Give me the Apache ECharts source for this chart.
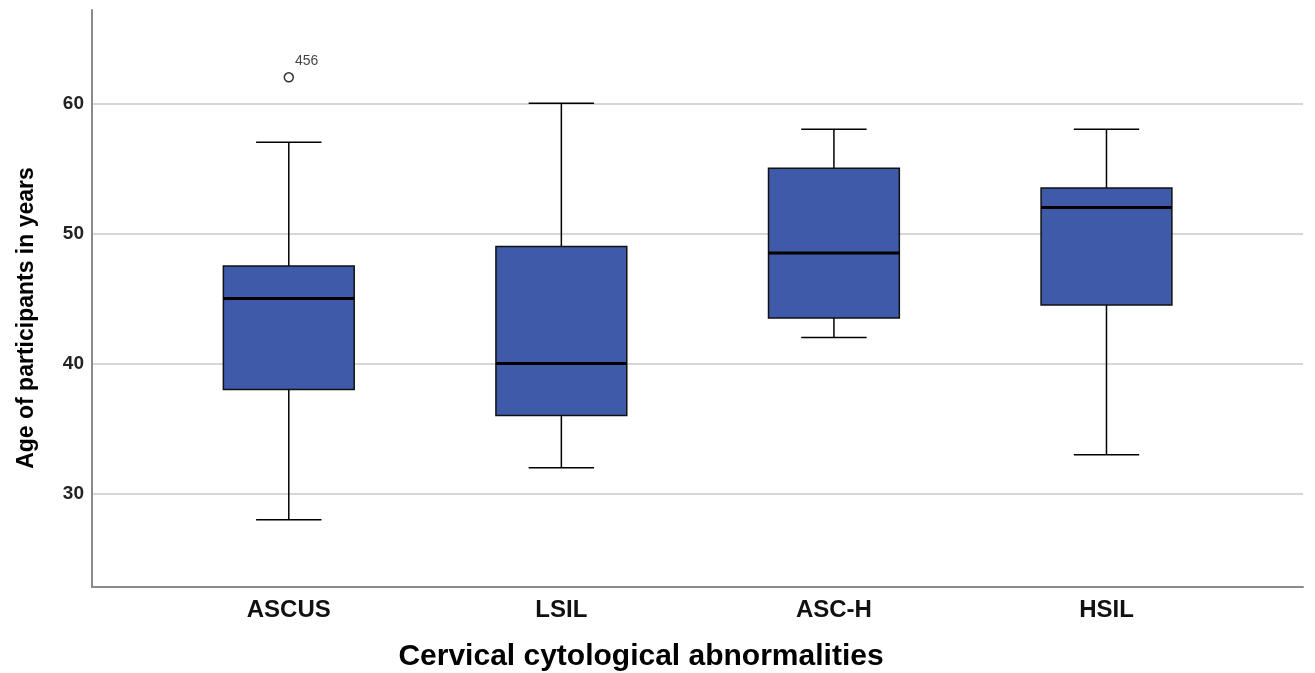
<!DOCTYPE html>
<html>
<head>
<meta charset="utf-8">
<script src="https://cdn.jsdelivr.net/npm/echarts@6/dist/echarts.min.js"></script>
<style>
html,body{margin:0;padding:0;background:#fff;}
#c{width:1315px;height:673px;}
</style>
</head>
<body>
<div id="c"></div>
<script>
// ---- data ----
const categories = ['ASCUS', 'LSIL', 'ASC-H', 'HSIL'];
const whiskerLow = [28, 32, 42, 33];
const q1 = [38, 36, 43.5, 44.5];
const median = [45, 40, 48.5, 52];
const q3 = [47.5, 49, 55, 53.5];
const whiskerHigh = [57, 60, 58, 58];
const outliers = [[0, 62, '456']]; // [category index, value, case id]
const yTicks = [30, 40, 50, 60];

const boxData = categories.map((c, i) => [i, whiskerLow[i], q1[i], median[i], q3[i], whiskerHigh[i]]);

const chart = echarts.init(document.getElementById('c'));
const FONT = '"Liberation Sans", Arial, sans-serif';

function renderBox(params, api) {
  const x = api.value(0);
  const lo = api.coord([x, api.value(1)]);
  const b1 = api.coord([x, api.value(2)]);
  const md = api.coord([x, api.value(3)]);
  const b3 = api.coord([x, api.value(4)]);
  const hi = api.coord([x, api.value(5)]);
  const bw = api.size([0.48, 0])[0];
  const cw = api.size([0.24, 0])[0];
  const cx = lo[0];
  const line = {stroke: '#000', lineWidth: 1.5};
  return {
    type: 'group',
    children: [
      {type: 'line', shape: {x1: cx, y1: hi[1], x2: cx, y2: b3[1]}, style: line},
      {type: 'line', shape: {x1: cx, y1: b1[1], x2: cx, y2: lo[1]}, style: line},
      {type: 'line', shape: {x1: cx - cw / 2, y1: hi[1], x2: cx + cw / 2, y2: hi[1]}, style: line},
      {type: 'line', shape: {x1: cx - cw / 2, y1: lo[1], x2: cx + cw / 2, y2: lo[1]}, style: line},
      {type: 'rect', shape: {x: cx - bw / 2, y: b3[1], width: bw, height: b1[1] - b3[1]},
        style: {fill: '#3E5AA8', stroke: '#111', lineWidth: 1.5}},
      {type: 'line', shape: {x1: cx - bw / 2, y1: md[1], x2: cx + bw / 2, y2: md[1]},
        style: {stroke: '#000', lineWidth: 3}}
    ]
  };
}

chart.setOption({
  animation: false,
  backgroundColor: '#fff',
  grid: {left: 92, right: 12, top: 10, bottom: 86, containLabel: false},
  xAxis: {
    type: 'value',
    min: -0.722,
    max: 3.721,
    axisLine: {show: true, onZero: false, lineStyle: {color: '#8a8a8a', width: 2}},
    axisTick: {show: false, customValues: [0, 1, 2, 3]},
    splitLine: {show: false},
    axisLabel: {
      customValues: [0, 1, 2, 3],
      formatter: v => categories[Math.round(v)] || '',
      color: '#111', fontWeight: 'bold', fontSize: 24, fontFamily: FONT, margin: 11
    }
  },
  yAxis: {
    type: 'value',
    min: 22.83,
    max: 67.17,
    axisLine: {show: true, onZero: false, lineStyle: {color: '#8a8a8a', width: 2}},
    axisTick: {show: false, customValues: yTicks},
    splitLine: {show: true, lineStyle: {color: '#c8c8c8', width: 1.5}},
    axisLabel: {
      customValues: yTicks,
      color: '#222', fontWeight: 'bold', fontSize: 19, fontFamily: FONT, margin: 8
    }
  },
  graphic: [
    {type: 'text', x: 27, y: 318, rotation: Math.PI / 2,
      style: {text: 'Age of participants in years', fill: '#000', align: 'center', verticalAlign: 'middle',
        font: 'bold 23px "Liberation Sans Narrow", "Arial Narrow", ' + FONT}},
    {type: 'text', x: 641, y: 657,
      style: {text: 'Cervical cytological abnormalities', fill: '#000', align: 'center', verticalAlign: 'middle',
        font: 'bold 30px ' + FONT}}
  ],
  series: [
    {
      type: 'custom',
      renderItem: renderBox,
      data: boxData,
      encode: {x: 0, y: [1, 2, 3, 4, 5]},
      z: 3
    },
    {
      type: 'scatter',
      data: outliers.map(o => ({value: [o[0], o[1]], name: o[2]})),
      symbol: 'circle',
      symbolSize: 9,
      itemStyle: {color: '#fff', borderColor: '#000', borderWidth: 1.5},
      label: {show: true, position: 'right', distance: 1, offset: [0, -16], formatter: p => p.name,
        color: '#111', fontSize: 14, fontFamily: FONT},
      z: 4
    }
  ]
});
</script>
</body>
</html>
